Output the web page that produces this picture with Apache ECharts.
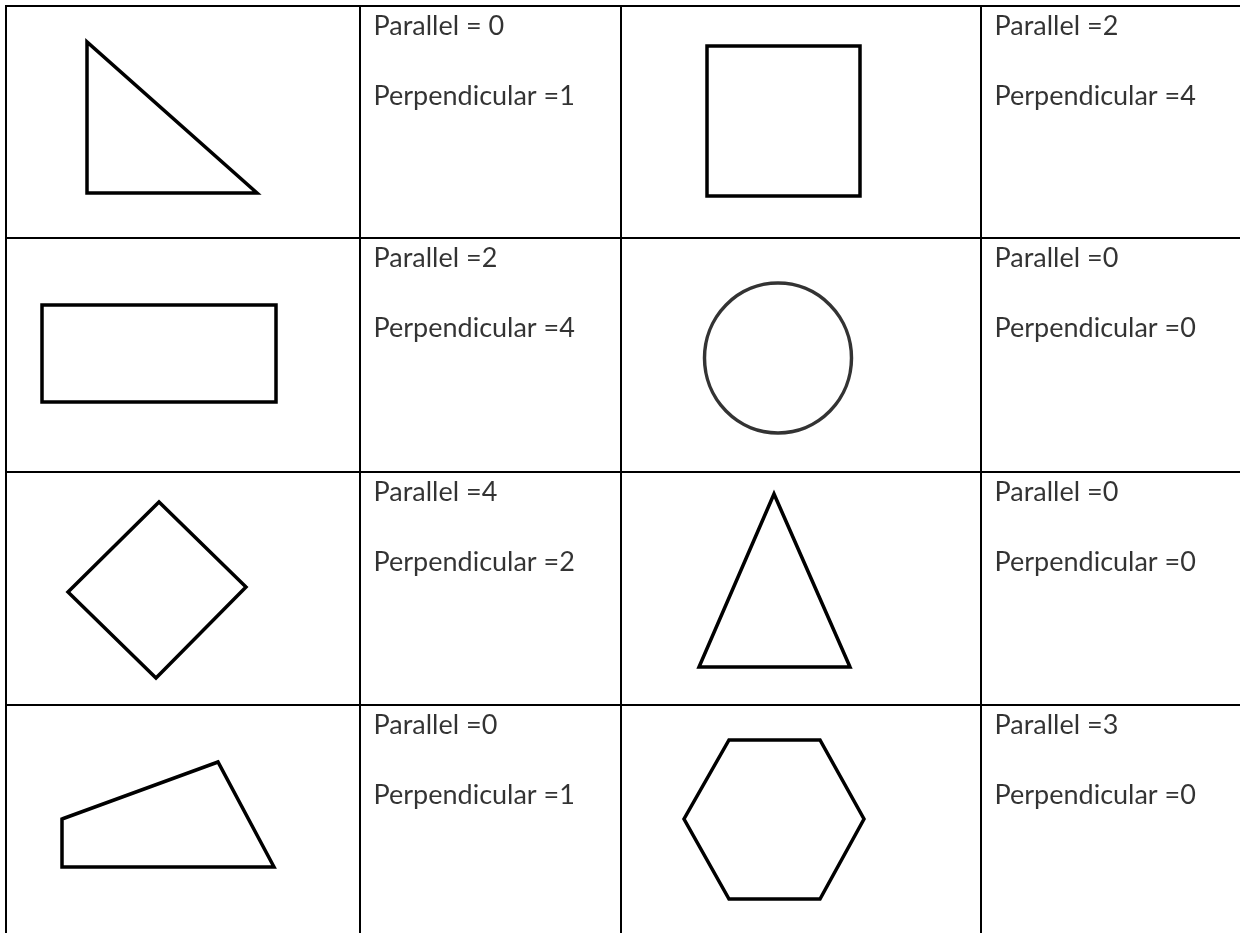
<!DOCTYPE html>
<html>
<head>
<meta charset="utf-8">
<title>Parallel and perpendicular lines</title>
<script src="https://cdn.jsdelivr.net/npm/echarts@6/dist/echarts.min.js"></script>
<style>
  html, body { margin: 0; padding: 0; background: #fff; }
  #chart { width: 1240px; height: 933px; }
</style>
</head>
<body>
<div id="chart"></div>
<script>
// table edges (same units as the axes: 0..1240 across, 0..933 down)
const colEdges = [6, 360, 621, 981];
const rowEdges = [6, 238, 472, 705];

// what each text cell says, row by row (left pair, right pair)
const parallelText = [
  ["Parallel = 0", "Parallel =2"],
  ["Parallel =2", "Parallel =0"],
  ["Parallel =4", "Parallel =0"],
  ["Parallel =0", "Parallel =3"]
];
const perpendicularText = [
  ["Perpendicular =1", "Perpendicular =4"],
  ["Perpendicular =4", "Perpendicular =0"],
  ["Perpendicular =2", "Perpendicular =0"],
  ["Perpendicular =1", "Perpendicular =0"]
];

// shape outlines, vertices
const rightTriangle = [[87, 42], [87, 193], [257, 193]];
const square = [[707, 46], [860, 46], [860, 196], [707, 196]];
const rectangle = [[42, 305], [276, 305], [276, 402], [42, 402]];
const diamond = [[159, 502], [246, 587], [156, 678], [68, 592]];
const isoTriangle = [[774, 494], [850, 667], [699, 667]];
const quad = [[62, 819], [218, 762], [274, 867], [62, 867]];
const hexagon = [[729, 740], [820, 740], [864, 819], [820, 899], [729, 899], [684, 819]];
const circleCenter = [778, 358];

const W = 1240, H = 933;

const chart = echarts.init(document.getElementById("chart"));

// closed outline, run past the start so the first corner gets a proper join
function outline(pts) {
  return {
    type: "line",
    data: pts.concat([pts[0], pts[1]]),
    symbol: "none",
    silent: true,
    lineStyle: { color: "#000", width: 3.5, join: "miter" }
  };
}

function rule(pts) {
  return {
    type: "line",
    data: pts,
    symbol: "none",
    silent: true,
    lineStyle: { color: "#000", width: 2 }
  };
}

const series = [];

// table rules
rowEdges.forEach(y => series.push(rule([[colEdges[0] - 1, y], [W, y]])));
colEdges.forEach(x => series.push(rule([[x, rowEdges[0] - 1], [x, H]])));

// shapes
[rightTriangle, square, rectangle, diamond, isoTriangle, quad, hexagon]
  .forEach(p => series.push(outline(p)));

series.push({
  type: "scatter",
  data: [circleCenter],
  symbol: "circle",
  symbolSize: [147, 150],
  silent: true,
  itemStyle: { color: "rgba(0,0,0,0)", borderColor: "#000", borderWidth: 3.5 }
});

// text cells
const textPoints = [];
rowEdges.forEach((top, r) => {
  [colEdges[1], colEdges[3]].forEach((left, c) => {
    textPoints.push({ value: [left + 14, top + 21], name: parallelText[r][c] });
    textPoints.push({ value: [left + 14, top + 91], name: perpendicularText[r][c] });
  });
});

series.push({
  type: "scatter",
  data: textPoints,
  symbolSize: 1,
  silent: true,
  itemStyle: { color: "rgba(0,0,0,0)" },
  label: {
    show: true,
    position: [0, 0],
    align: "left",
    verticalAlign: "middle",
    formatter: p => p.name,
    color: "#000",
    fontFamily: "Lato",
    fontSize: 27
  }
});

chart.setOption({
  animation: false,
  grid: { left: 0, right: 0, top: 0, bottom: 0 },
  xAxis: { type: "value", min: 0, max: W, show: false },
  yAxis: { type: "value", min: 0, max: H, inverse: true, show: false },
  series: series
});
</script>
</body>
</html>
